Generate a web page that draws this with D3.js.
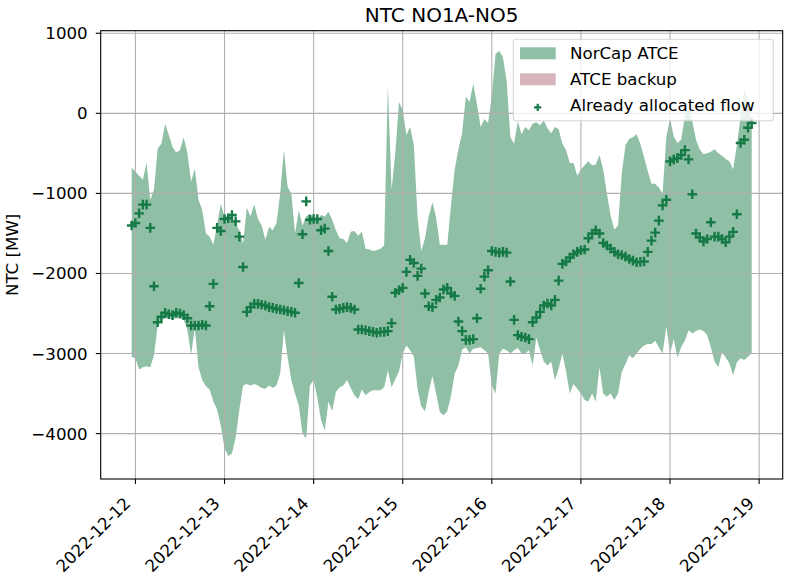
<!DOCTYPE html>
<meta charset="utf-8">
<head>
  <title>NTC NO1A-NO5</title>
  <script src="https://d3js.org/d3.v7.min.js"></script>
  <style>
    body { margin: 0; background: #ffffff; }
    text { font-family: "DejaVu Sans", sans-serif; fill: #000; }
  </style>
</head>
<body>
<svg width="785" height="575"></svg>
<script>
// hourly values, first hour = 2022-12-11 23:00 UTC
var startHour = Date.UTC(2022, 11, 11, 23);

var upper = [
  -680, -730, -780, -830, -620, -1080, -950, -440, -380, -130,
  -270, -420, -490, -460, -300, -500, -850, -690, -1080, -1210,
  -1500, -1540, -1640, -1400, -1130, -1300, -1270, -1290, -1380, -1460,
  -1630, -1180, -1290, -1140, -1320, -1400, -1580, -1420, -1460, -1370,
  -1000, -460, -920, -1000, -1500, -1210, -1400, -1290, -1250, -1300,
  -1330, -1270, -1290, -1230, -1330, -1460, -1560, -1570, -1620, -1480,
  -1470, -1530, -1480, -1690, -1700, -1720, -1710, -1690, -1650, 350,
  -950, -500, 140, 40, -270, -170, -400, -1300, -1720, -1560,
  -1290, -1110, -1300, -1640, -1640, -1640, -1150, -700, -450, -250,
  210, 140, 370, 110, -170, -70, -120, 210, 740, 780,
  700, 400, -300, -380, -100, -260, -170, -210, -130, -110,
  -150, -90, -190, -250, -170, -200, -380, -460, -620, -620,
  -780, -700, -650, -600, -650, -640, -520, -700, -1000, -1280,
  -1450, -1400, -750, -400, -320, -300, -260, -380, -550, -720,
  -880, -880, -930, -1000, -300, -60, -290, -370, -330, -30,
  80, -100, -330, -450, -510, -500, -480, -450, -500, -530,
  -570, -600, -700, -400, -50, 300, 160, -120
];

var lower = [
  -3040, -3060, -3200, -3170, -3160, -3170, -3020, -2650, -2580, -2560,
  -2560, -2570, -2560, -2560, -2580, -2700, -3020, -2680, -3170, -3330,
  -3410, -3450, -3600, -3700, -3900, -4180, -4280, -4250, -4050, -3700,
  -3400, -3380, -3400, -3380, -3400, -3430, -3440, -3400, -3430, -3400,
  -3250, -2710, -3050, -3330, -3500, -3650, -4000, -4060, -3400, -3330,
  -3550, -3830, -3960, -3600, -3720, -3480, -3420, -3400, -3330, -3430,
  -3520, -3570, -3450, -3520, -3480, -3460, -3460, -3460, -3420, -3210,
  -3420, -3320, -3220, -3000, -2900, -2960, -3040, -3440, -3660, -3720,
  -3480, -3280, -3500, -3730, -3770, -3720, -3530, -3250, -3150, -2950,
  -2920, -3000, -2940, -2930, -2920, -2960, -3000, -3400, -3500, -3000,
  -2940, -2960, -3000, -2960, -2930, -3000, -3000, -2960, -3150, -2800,
  -2960, -3100, -3150, -3100, -3330, -3190, -3000, -3220, -3500, -3380,
  -3440, -3500, -3580, -3600, -3500, -3600, -3170, -3500, -3540, -3500,
  -3580, -3500, -3230, -3130, -3020, -3060, -3000, -2940, -2900, -2880,
  -2880, -2840, -2920, -3000, -2660, -3000, -2820, -3050, -2920, -2840,
  -2710, -2750, -2720, -2700, -2720, -2770, -2920, -3100, -3170, -2980,
  -3050, -3120, -3270, -3110, -3060, -3080, -3040, -2990
];

var flow = [
  -1400, -1370, -1250, -1140, -1140, -1430, -2160, -2610, -2540, -2490,
  -2510, -2520, -2490, -2500, -2520, -2560, -2650, -2650, -2650, -2640,
  -2650, -2410, -2130, -1430, -1470, -1320, -1310, -1270, -1350, -1540,
  -1920, -2480, -2420, -2380, -2380, -2390, -2400, -2420, -2430, -2440,
  -2450, -2460, -2470, -2480, -2490, -2120, -1510, -1100, -1330, -1320,
  -1320, -1460, -1440, -1720, -2290, -2450, -2440, -2430, -2420, -2430,
  -2450, -2700, -2700, -2710, -2720, -2730, -2740, -2730, -2730, -2720,
  -2620, -2240, -2210, -2180, -1980, -1830, -1870, -2030, -1940, -2250,
  -2410, -2420, -2330, -2300, -2200, -2180, -2250, -2280, -2600, -2720,
  -2830, -2830, -2820, -2560, -2190, -2040, -1960, -1720, -1730, -1740,
  -1730, -1740, -2100, -2580, -2770, -2790, -2800, -2820, -2610, -2550,
  -2480, -2400, -2375, -2400, -2330, -2090, -1880, -1850, -1800, -1760,
  -1730, -1710, -1700, -1560, -1500, -1460, -1500, -1620, -1650, -1690,
  -1730, -1760, -1770, -1790, -1820, -1840, -1860, -1855, -1850, -1730,
  -1590, -1490, -1340, -1150, -1080, -600, -575, -560, -520, -460,
  -575, -1010, -1500, -1550, -1600, -1570, -1360, -1540, -1540, -1570,
  -1610, -1540, -1480, -1260, -370, -330, -180, -120
];

var yTicks = [1000, 0, -1000, -2000, -3000, -4000];
var legendLabels = ["NorCap ATCE", "ATCE backup", "Already allocated flow"];

var hour = 3600e3;
var data = upper.map(function(u, i) {
  return { t: new Date(startHour + i * hour), hi: u, lo: lower[i], flow: flow[i] };
});

var svg = d3.select("svg"),
    pL = 100.7, pR = 782.7, pT = 30.7, pB = 479;

var pad = (data.length - 1) * 0.05;
var x = d3.scaleUtc()
    .domain([new Date(startHour - pad * hour), new Date(startHour + (data.length - 1 + pad) * hour)])
    .range([pL, pR]);
var y = d3.scaleLinear()
    .domain([-4567, 1032])
    .range([pB, pT]);

svg.append("rect").attr("width", 785).attr("height", 575).attr("fill", "#ffffff");

svg.append("clipPath").attr("id", "plot")
  .append("rect").attr("x", pL).attr("y", pT).attr("width", pR - pL).attr("height", pB - pT);

// band
svg.append("path")
    .datum(data)
    .attr("fill", "#1f7f4b")
    .attr("fill-opacity", 0.5)
    .attr("d", d3.area()
        .x(function(d) { return x(d.t); })
        .y0(function(d) { return y(d.lo); })
        .y1(function(d) { return y(d.hi); }));

// grid
var days = d3.utcDay.range(new Date(Date.UTC(2022, 11, 12)), new Date(Date.UTC(2022, 11, 20)));
var grid = svg.append("g").attr("stroke", "#b0b0b0").attr("stroke-width", 1.1);
grid.selectAll(".gx").data(days).enter().append("line")
    .attr("x1", function(d) { return x(d); }).attr("x2", function(d) { return x(d); })
    .attr("y1", pT).attr("y2", pB);
grid.selectAll(".gy").data(yTicks).enter().append("line")
    .attr("x1", pL).attr("x2", pR)
    .attr("y1", function(d) { return y(d); }).attr("y2", function(d) { return y(d); });

// already allocated flow markers
var plus = "M-4.8,0H4.8M0,-4.8V4.8";
svg.append("g")
    .attr("clip-path", "url(#plot)")
    .selectAll("path")
    .data(data)
    .enter().append("path")
    .attr("d", plus)
    .attr("transform", function(d) { return "translate(" + x(d.t) + "," + y(d.flow) + ")"; })
    .attr("stroke", "#167a46")
    .attr("stroke-width", 2.4)
    .attr("fill", "none");

// spines
svg.append("rect")
    .attr("x", pL).attr("y", pT)
    .attr("width", pR - pL).attr("height", pB - pT)
    .attr("fill", "none").attr("stroke", "#000").attr("stroke-width", 1.1);

// x axis
var xt = svg.append("g");
xt.selectAll("line").data(days).enter().append("line")
    .attr("x1", function(d) { return x(d); }).attr("x2", function(d) { return x(d); })
    .attr("y1", pB).attr("y2", pB + 4.9)
    .attr("stroke", "#000").attr("stroke-width", 1.1);
var fmt = d3.utcFormat("%Y-%m-%d");
xt.selectAll("text").data(days).enter().append("text")
    .attr("transform", function(d) { return "translate(" + (x(d) - 3.8) + "," + (pB + 25.5) + ") rotate(-45)"; })
    .attr("text-anchor", "end")
    .attr("font-size", "16.67px")
    .text(function(d) { return fmt(d); });

// y axis
var yt = svg.append("g");
yt.selectAll("line").data(yTicks).enter().append("line")
    .attr("x1", pL - 4.9).attr("x2", pL)
    .attr("y1", function(d) { return y(d); }).attr("y2", function(d) { return y(d); })
    .attr("stroke", "#000").attr("stroke-width", 1.1);
yt.selectAll("text").data(yTicks).enter().append("text")
    .attr("x", pL - 13)
    .attr("y", function(d) { return y(d); })
    .attr("dy", "0.36em")
    .attr("text-anchor", "end")
    .attr("font-size", "16.67px")
    .text(function(d) { return d3.format("d")(d).replace("-", "\u2212"); });

svg.append("text")
    .attr("transform", "translate(17.5," + ((pT + pB) / 2) + ") rotate(-90)")
    .attr("text-anchor", "middle")
    .attr("font-size", "16.67px")
    .text("NTC [MW]");

// title
svg.append("text")
    .attr("x", (pL + pR) / 2)
    .attr("y", 22.4)
    .attr("text-anchor", "middle")
    .attr("font-size", "20px")
    .text("NTC NO1A-NO5");

// legend
var lg = svg.append("g").attr("transform", "translate(513.3,39.3)");
lg.append("rect")
    .attr("width", 260).attr("height", 81.4).attr("rx", 3)
    .attr("fill", "#ffffff").attr("fill-opacity", 0.8)
    .attr("stroke", "#cccccc").attr("stroke-opacity", 0.8).attr("stroke-width", 1.1);
var rows = lg.selectAll(".row").data(legendLabels).enter().append("g")
    .attr("transform", function(d, i) { return "translate(0," + (14 + i * 26) + ")"; });
rows.filter(function(d, i) { return i < 2; }).append("rect")
    .attr("x", 6.7).attr("y", -6).attr("width", 35.7).attr("height", 12)
    .attr("fill", function(d, i) { return i === 0 ? "#1f7f4b" : "#b06977"; })
    .attr("fill-opacity", 0.5);
rows.filter(function(d, i) { return i === 2; }).append("path")
    .attr("d", "M-3.6,0H3.6M0,-3.6V3.6")
    .attr("transform", "translate(24.4,2)")
    .attr("stroke", "#167a46").attr("stroke-width", 2.2).attr("fill", "none");
rows.append("text")
    .attr("x", 56.7)
    .attr("dy", "0.36em")
    .attr("font-size", "16.67px")
    .text(function(d) { return d; });
</script>
</body>
